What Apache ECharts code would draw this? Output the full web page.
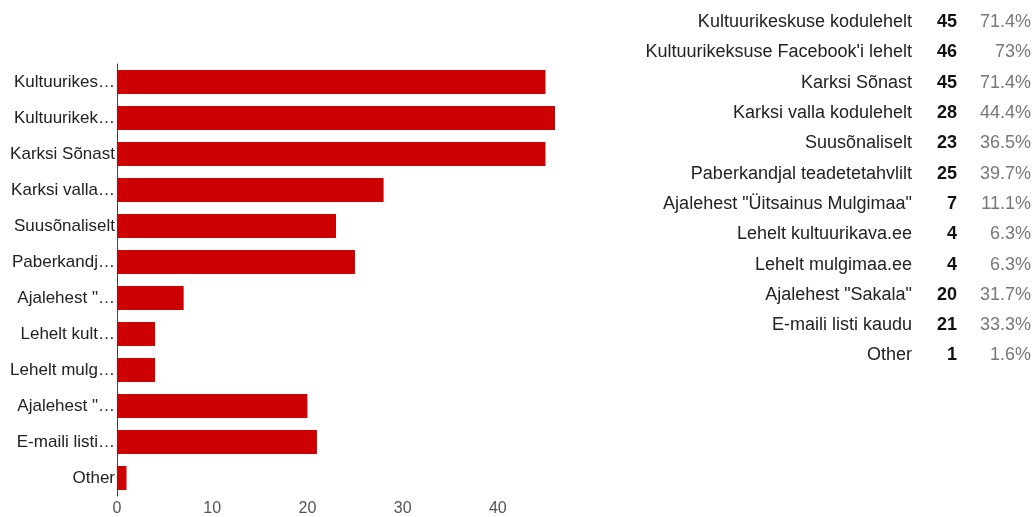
<!DOCTYPE html>
<html>
<head>
<meta charset="utf-8">
<script src="https://cdn.jsdelivr.net/npm/echarts@6/dist/echarts.min.js"></script>
<style>html,body{margin:0;padding:0;background:#fff}#c{width:1033px;height:517px}</style>
</head>
<body>
<div id="c"></div>
<script>
const categories = [
  'Kultuurikeskuse kodulehelt',
  "Kultuurikeksuse Facebook'i lehelt",
  'Karksi Sõnast',
  'Karksi valla kodulehelt',
  'Suusõnaliselt',
  'Paberkandjal teadetetahvlilt',
  'Ajalehest "Üitsainus Mulgimaa"',
  'Lehelt kultuurikava.ee',
  'Lehelt mulgimaa.ee',
  'Ajalehest "Sakala"',
  'E-maili listi kaudu',
  'Other'
];
const counts = [45, 46, 45, 28, 23, 25, 7, 4, 4, 20, 21, 1];
const percents = ['71.4%', '73%', '71.4%', '44.4%', '36.5%', '39.7%', '11.1%', '6.3%', '6.3%', '31.7%', '33.3%', '1.6%'];
const xTicks = [0, 10, 20, 30, 40];

const FONT = '"Liberation Sans", Arial, sans-serif';
const chart = echarts.init(document.getElementById('c'), null, {renderer: 'canvas'});
chart.setOption({
  animation: false,
  textStyle: {fontFamily: FONT},
  grid: [
    {left: 117, top: 64, width: 438, height: 432, containLabel: false},
    {left: 1031, top: 7, width: 1, height: 363.6, containLabel: false}
  ],
  xAxis: [
    {
      type: 'value', gridIndex: 0, min: 0, max: 46, interval: 10,
      axisLine: {show: false}, axisTick: {show: false}, splitLine: {show: false},
      axisLabel: {
        fontFamily: FONT, fontSize: 16, color: '#555', margin: 5,
        showMaxLabel: false,
        formatter: function (v) { return xTicks.indexOf(v) >= 0 ? String(v) : ''; }
      }
    },
    {type: 'value', gridIndex: 1, show: false}
  ],
  yAxis: [
    {
      type: 'category', gridIndex: 0, data: categories, inverse: true,
      axisLine: {show: true, lineStyle: {color: '#444', width: 1}},
      axisTick: {show: false},
      axisLabel: {
        fontFamily: FONT, fontSize: 17, color: '#222', margin: 2,
        width: 106, overflow: 'truncate', ellipsis: '…'
      }
    },
    {
      type: 'category', gridIndex: 1, data: categories, inverse: true,
      axisLine: {show: false}, axisTick: {show: false},
      axisLabel: {
        margin: 0, fontFamily: FONT, interval: 0,
        formatter: function (v, i) {
          return '{a|' + v + '}{b|' + counts[i] + '}{c|' + percents[i] + '}';
        },
        rich: {
          a: {fontFamily: FONT, fontSize: 18, color: '#222'},
          b: {fontFamily: FONT, fontSize: 18, color: '#111', fontWeight: 'bold', width: 45, align: 'right'},
          c: {fontFamily: FONT, fontSize: 18, color: '#777', width: 74, align: 'right'}
        }
      }
    }
  ],
  series: [{
    type: 'bar', xAxisIndex: 0, yAxisIndex: 0,
    data: counts, barWidth: 24,
    itemStyle: {color: '#cc0000'}
  }]
});
</script>
</body>
</html>
